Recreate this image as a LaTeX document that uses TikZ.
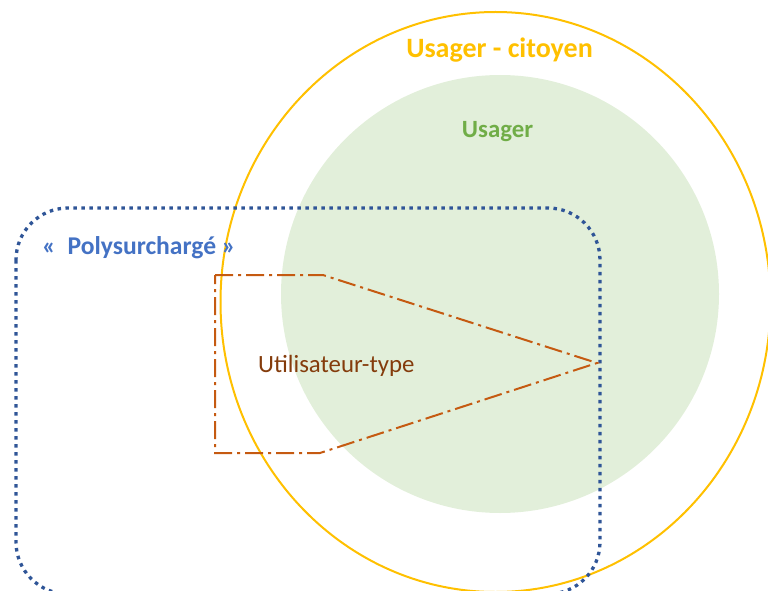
\documentclass[tikz,border=0pt]{standalone}
\usepackage{fontspec}
\setmainfont{Carlito}
\definecolor{gold}{HTML}{FFC000}
\definecolor{leaf}{HTML}{70AD47}
\definecolor{leaffill}{HTML}{E2EFDA}
\definecolor{navy}{HTML}{2F5597}
\definecolor{sky}{HTML}{4472C4}
\definecolor{rust}{HTML}{C55A11}
\definecolor{brownt}{HTML}{843C0C}
\begin{document}
\begin{tikzpicture}[x=1pt,y=-1pt,
  outerring/.style={draw=gold,line width=2pt},
  innerdisc/.style={fill=leaffill},
  dotbox/.style={draw=navy,line width=3.3pt,dash pattern=on 3.5pt off 4.5pt,rounded corners=52pt},
  dashdotline/.style={draw=rust,line width=2pt,dash pattern=on 18pt off 5pt on 3pt off 5pt},
  lbl/.style={inner sep=0pt}]
\useasboundingbox (0,0) rectangle (768,591);
\clip (0,0) rectangle (768,591);
\fill[innerdisc] (500,294) circle[radius=219];
\draw[outerring] (495.5,302) ellipse[x radius=275,y radius=290];
\draw[dotbox] (16,208) rectangle (600,594);
\draw[dashdotline] (215,275) -- (323,275) -- (597,363) -- (320,453) -- (215,453) -- cycle;
\node[lbl,anchor=base,text=gold,font=\fontsize{28}{32}\selectfont\bfseries] (citoyen) at (499.5,58) {Usager - citoyen};
\node[lbl,anchor=base,text=leaf,font=\fontsize{24.8}{28}\selectfont\bfseries] (usager) at (497.5,138) {Usager};
\node[lbl,anchor=base west,text=sky,font=\fontsize{25.6}{29}\selectfont\bfseries] (poly) at (42,254) {«\ \ Polysurchargé »};
\node[lbl,anchor=base west,text=brownt,font=\fontsize{24.8}{28}\selectfont] (util) at (258,372) {Utilisateur-type};
\end{tikzpicture}
\end{document}
